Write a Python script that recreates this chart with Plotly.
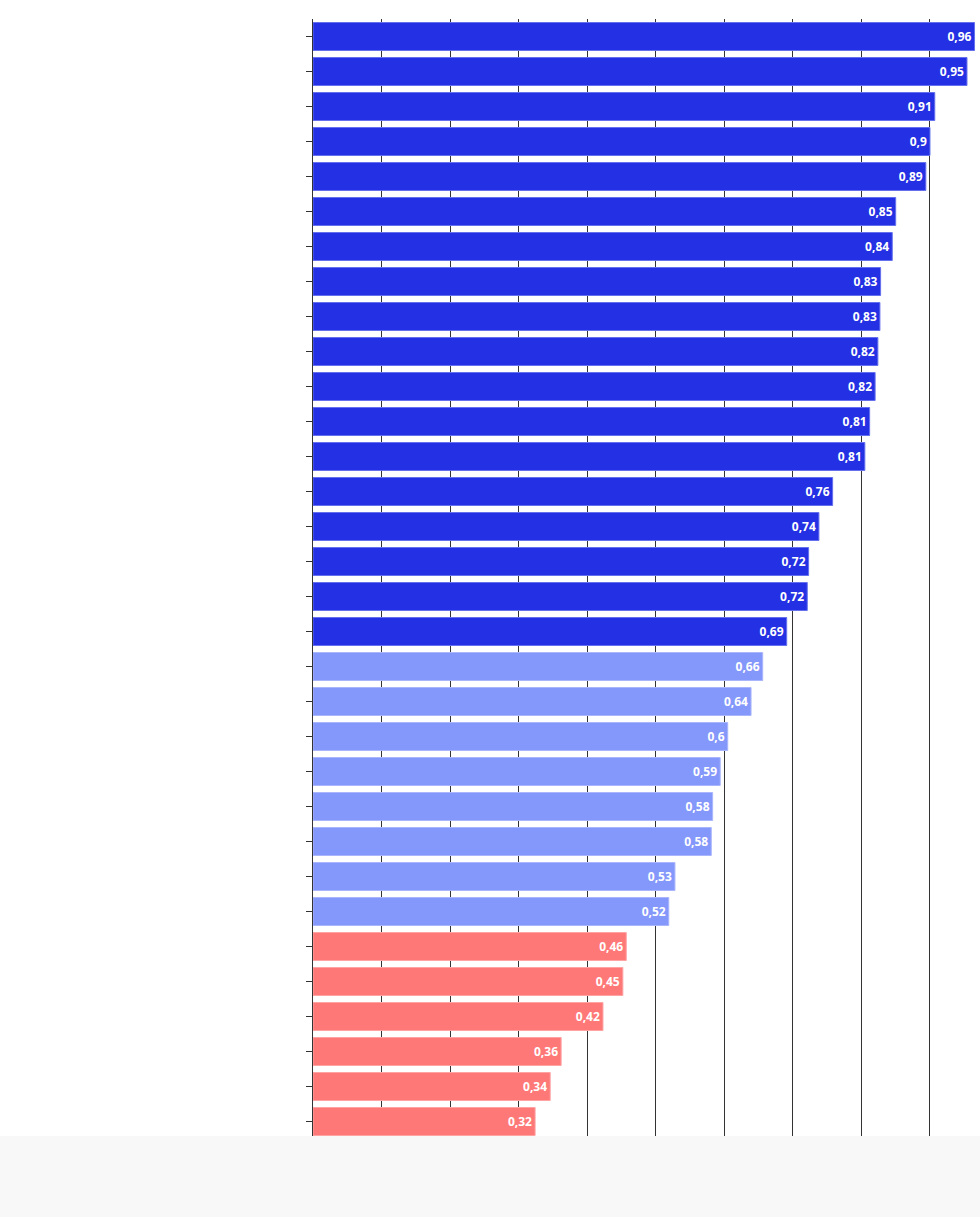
import plotly.graph_objects as go

categories = [f"c{i+1}" for i in range(32)]
values = [0.965, 0.954, 0.907, 0.900, 0.894, 0.850, 0.845, 0.828, 0.827, 0.824,
          0.820, 0.812, 0.805, 0.758, 0.738, 0.723, 0.721, 0.691, 0.656, 0.639,
          0.605, 0.594, 0.583, 0.581, 0.528, 0.519, 0.457, 0.452, 0.423, 0.362,
          0.346, 0.324]
labels = ["0,96", "0,95", "0,91", "0,9", "0,89", "0,85", "0,84", "0,83", "0,83", "0,82",
          "0,82", "0,81", "0,81", "0,76", "0,74", "0,72", "0,72", "0,69", "0,66", "0,64",
          "0,6", "0,59", "0,58", "0,58", "0,53", "0,52", "0,46", "0,45", "0,42", "0,36",
          "0,34", "0,32"]
groups = ["high"] * 18 + ["mid"] * 8 + ["low"] * 6
group_colors = {"high": "#2330e3", "mid": "#8497fa", "low": "#ff7878"}
line_colors = {"high": "#6470ee", "mid": "#a9b6fc", "low": "#ffa3a3"}

fig = go.Figure(go.Bar(
    x=values,
    y=categories,
    orientation="h",
    text=labels,
    textposition="inside",
    insidetextanchor="end",
    textangle=0,
    textfont=dict(family="Open Sans", size=12, color="white", weight="bold"),
    marker=dict(color=[group_colors[g] for g in groups],
                line=dict(color=[line_colors[g] for g in groups], width=1)),
    hoverinfo="none",
))

fig.update_layout(
    width=980, height=1217,
    margin=dict(l=313, r=0, t=19, b=78),
    paper_bgcolor="white",
    plot_bgcolor="white",
    bargap=0.2,
    showlegend=False,
    xaxis=dict(range=[0, 0.973], dtick=0.1, tick0=0, showgrid=True,
               gridcolor="#333333", gridwidth=1, zeroline=False,
               showticklabels=False, ticks="", showline=False, fixedrange=True),
    yaxis=dict(autorange="reversed", showticklabels=False, ticks="outside",
               ticklen=6, tickcolor="#333333", showline=True, linecolor="#333333",
               linewidth=1, showgrid=False, fixedrange=True),
    shapes=[dict(type="rect", xref="paper", yref="paper", x0=-1, x1=1.1,
                 y0=-0.2, y1=3 / 1120,
                 fillcolor="#f8f8f8", line=dict(width=0), layer="above")],
)

fig.write_html("out.html")
